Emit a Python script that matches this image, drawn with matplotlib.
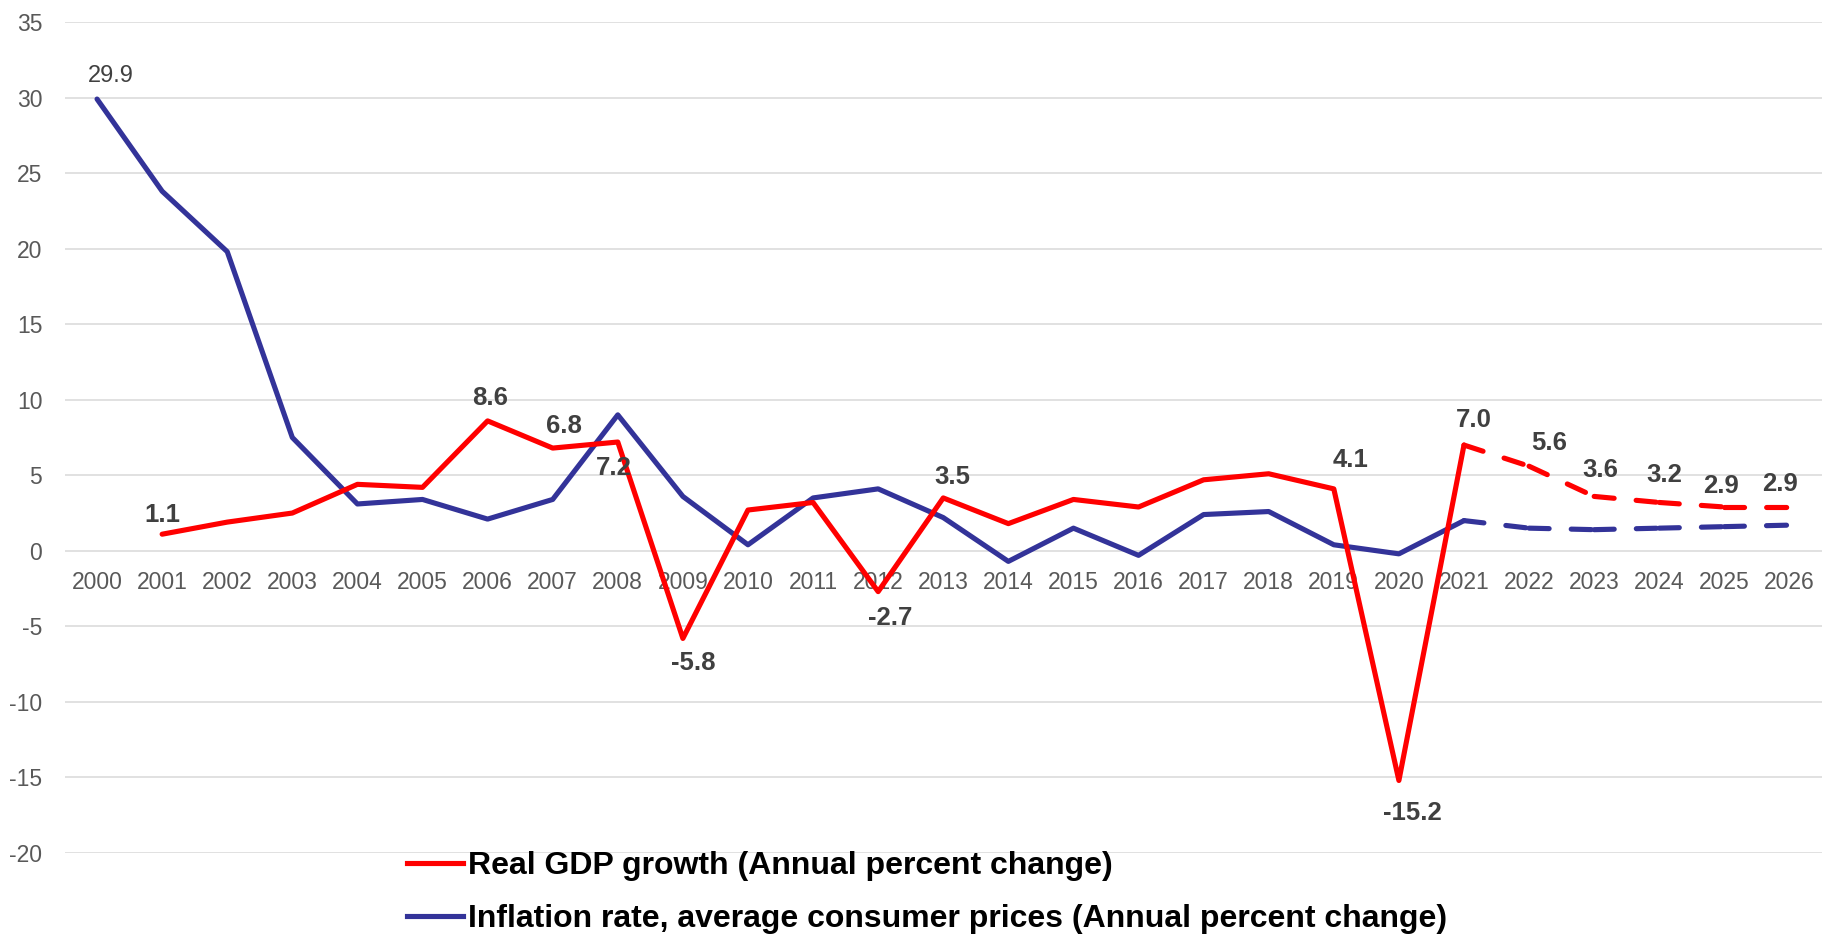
import numpy as np
import matplotlib.pyplot as plt
from matplotlib.lines import Line2D

years = [str(y) for y in range(2000, 2027)]
gdp = [np.nan, 1.1, 1.9, 2.5, 4.4, 4.2, 8.6, 6.8, 7.2, -5.8, 2.7, 3.2, -2.7, 3.5,
       1.8, 3.4, 2.9, 4.7, 5.1, 4.1, -15.2, 7.0, 5.6, 3.6, 3.2, 2.9, 2.9]
inflation = [29.9, 23.8, 19.8, 7.5, 3.1, 3.4, 2.1, 3.4, 9.0, 3.6, 0.4, 3.5, 4.1, 2.2,
             -0.7, 1.5, -0.3, 2.4, 2.6, 0.4, -0.2, 2.0, 1.5, 1.4, 1.5, 1.6, 1.7]
forecast_start = 21  # 2021 onward dashed

gdp_label_years = [2001, 2006, 2007, 2008, 2009, 2012, 2013, 2019, 2020, 2021, 2022, 2023, 2024, 2025, 2026]
# label offsets in pixels (dx, dy), dy positive = up
gdp_label_offsets = [(0, 19), (2, 23), (11, 22), (-4, -26), (10, -25), (12, -26), (9, 21), (17, 29),
                     (13, -33), (10, 25), (20, 23), (6, 26), (5, 27), (-3, 21), (-9, 23)]

red = '#FF0000'
blue = '#333399'
label_col = '#404040'

plt.rcParams['font.family'] = ['Liberation Sans', 'DejaVu Sans']
plt.rcParams['axes.unicode_minus'] = False
fig = plt.figure(figsize=(18.22, 9.36), dpi=100)
ax = fig.add_axes([64.5/1822, 1-853/936, 1-64.5/1822, (853-22)/936])

x = np.arange(len(years))
lw = 3.7
gdp = np.array(gdp)
inflation = np.array(inflation)
f = forecast_start

ax.plot(x[:f+1], inflation[:f+1], color=blue, lw=lw, solid_capstyle='round', solid_joinstyle='round')
ax.plot(x[:f+1], gdp[:f+1], color=red, lw=lw, solid_capstyle='round', solid_joinstyle='round')
# forecast: dash pattern restarts at every point, like the original
for i in range(f, len(years)-1):
    ax.plot(x[i:i+2], inflation[i:i+2], color=blue, lw=lw, dashes=[3.9, 4.3], dash_capstyle='round')
    ax.plot(x[i:i+2], gdp[i:i+2], color=red, lw=lw, dashes=[3.9, 4.3], dash_capstyle='round')

px = 72/100
for yr, (dx, dy) in zip(gdp_label_years, gdp_label_offsets):
    i = yr - 2000
    ax.annotate(f'{gdp[i]:.1f}', (x[i], gdp[i]), xytext=(dx*px, dy*px), textcoords='offset points',
                ha='center', va='center', fontsize=18.5, fontweight='bold', color=label_col)
ax.annotate(f'{inflation[0]:.1f}', (x[0], inflation[0]), xytext=(14*px, 23*px), textcoords='offset points',
            ha='center', va='center', fontsize=17, color=label_col)

ax.set_xlim(-0.5, len(years)-0.5)
ax.set_ylim(-20, 35)
ax.set_yticks(np.arange(-20, 36, 5))
ax.set_xticks(x)
ax.set_xticklabels(years)
ax.grid(axis='y', color='#d9d9d9', lw=1.1)
ax.set_axisbelow(True)
for s in ax.spines.values():
    s.set_visible(False)
ax.spines['bottom'].set_position(('data', 0))
ax.tick_params(axis='x', length=0, pad=14.4, labelsize=16.5, labelcolor='#595959')
ax.tick_params(axis='y', length=0, pad=16, labelsize=16.5, labelcolor='#595959')

handles = [Line2D([], [], color=red, lw=lw), Line2D([], [], color=blue, lw=lw)]
labels = ['Real GDP growth (Annual percent change)',
          'Inflation rate, average consumer prices (Annual percent change)']
fig.legend(handles, labels, loc='upper left', bbox_to_anchor=(407/1822, 1-851/936),
           frameon=False, borderpad=0, borderaxespad=0, handlelength=1.75, handletextpad=0.15,
           labelspacing=0.72, prop={'size': 23, 'weight': 'bold'})

fig.savefig('out.png', dpi=100)
